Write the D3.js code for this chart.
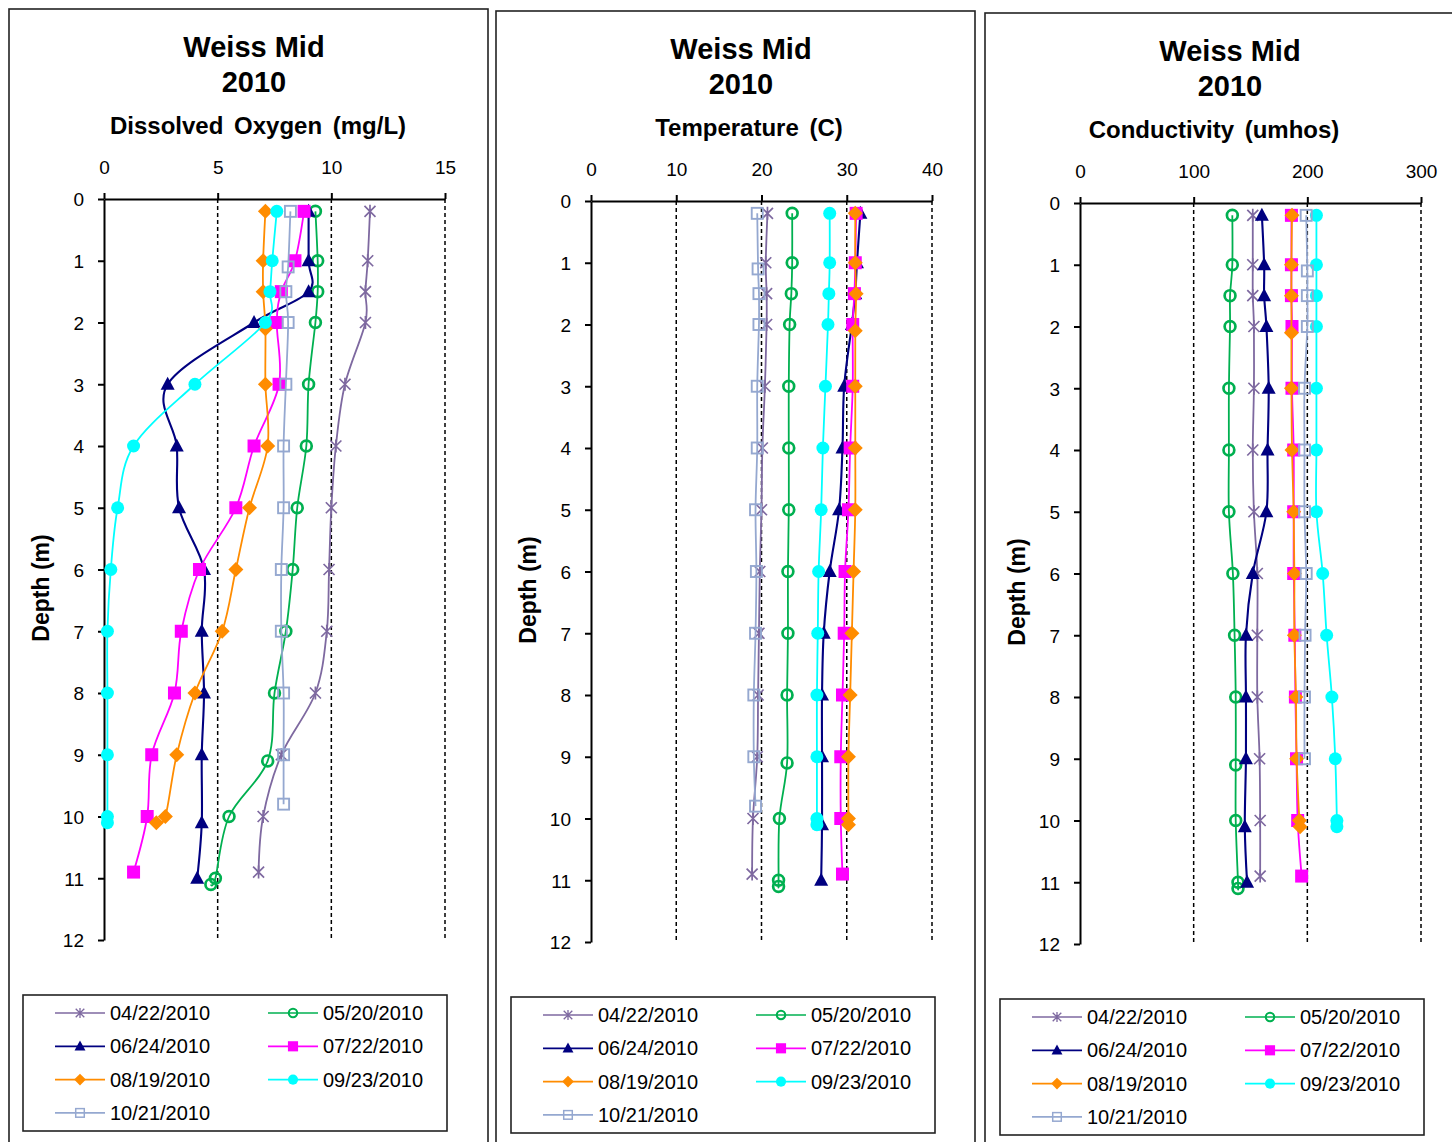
<!DOCTYPE html>
<html>
<head>
<meta charset="utf-8">
<script src="https://cdn.jsdelivr.net/npm/d3@7.9.0/dist/d3.min.js"></script>
<style>
  body { margin: 0; background: #fff; }
  svg { display: block; font-family: "Liberation Sans", Arial, sans-serif; }
</style>
</head>
<body>
<svg id="chart" width="1452" height="1142"></svg>
<script>
// sampling dates (one series each)
const dates = ['04/22/2010', '05/20/2010', '06/24/2010', '07/22/2010', '08/19/2010', '09/23/2010', '10/21/2010'];

// depth (m) of every reading, per date
const depth0422 = [0.2, 1, 1.5, 2, 3, 4, 5, 6, 7, 8, 9, 10, 10.9];
const depth0520 = [0.2, 1, 1.5, 2, 3, 4, 5, 6, 7, 8, 9.1, 10, 11, 11.1];
const depth0624 = [0.2, 1, 1.5, 2, 3, 4, 5, 6, 7, 8, 9, 10.1, 11];
const depth0722 = [0.2, 1, 1.5, 2, 3, 4, 5, 6, 7, 8, 9, 10, 10.9];
const depth0819 = [0.2, 1, 1.5, 2.1, 3, 4, 5, 6, 7, 8, 9, 10, 10.1];
const depth0923 = [0.2, 1, 1.5, 2, 3, 4, 5, 6, 7, 8, 9, 10, 10.1];
const depth1021 = [0.2, 1.1, 1.5, 2, 3, 4, 5, 6, 7, 8, 9, 9.8];

// dissolved oxygen (mg/L)
const do0422 = [11.7, 11.6, 11.5, 11.5, 10.6, 10.2, 10.0, 9.9, 9.8, 9.3, 7.8, 7.0, 6.8];
const do0520 = [9.3, 9.4, 9.4, 9.3, 9.0, 8.9, 8.5, 8.3, 8.0, 7.5, 7.2, 5.5, 4.9, 4.7];
const do0624 = [9.0, 9.0, 9.0, 6.6, 2.8, 3.2, 3.3, 4.4, 4.3, 4.4, 4.3, 4.3, 4.1];
const do0722 = [8.8, 8.4, 7.8, 7.6, 7.7, 6.6, 5.8, 4.2, 3.4, 3.1, 2.1, 1.9, 1.3];
const do0819 = [7.1, 7.0, 7.0, 7.1, 7.1, 7.2, 6.4, 5.8, 5.2, 4.0, 3.2, 2.7, 2.3];
const do0923 = [7.6, 7.4, 7.3, 7.1, 4.0, 1.3, 0.6, 0.3, 0.15, 0.15, 0.15, 0.15, 0.15];
const do1021 = [8.2, 8.1, 8.0, 8.1, 8.0, 7.9, 7.9, 7.8, 7.8, 7.9, 7.9, 7.9];

// temperature (C)
const temp0422 = [20.7, 20.5, 20.6, 20.6, 20.4, 20.1, 20.0, 19.8, 19.7, 19.6, 19.5, 19.0, 18.9];
const temp0520 = [23.6, 23.6, 23.5, 23.3, 23.2, 23.2, 23.2, 23.1, 23.1, 23.0, 23.0, 22.1, 22.0, 22.0];
const temp0624 = [31.6, 31.2, 31.0, 30.6, 29.7, 29.5, 29.1, 28.0, 27.3, 27.1, 27.1, 27.1, 27.0];
const temp0722 = [31.1, 31.0, 30.9, 30.7, 30.7, 30.4, 30.2, 29.8, 29.7, 29.5, 29.3, 29.3, 29.5];
const temp0819 = [31.0, 31.0, 31.1, 31.0, 31.0, 31.0, 31.0, 30.8, 30.6, 30.4, 30.2, 30.2, 30.2];
const temp0923 = [28.0, 28.0, 27.9, 27.8, 27.5, 27.2, 27.0, 26.7, 26.6, 26.5, 26.5, 26.5, 26.5];
const temp1021 = [19.5, 19.6, 19.7, 19.7, 19.5, 19.5, 19.3, 19.4, 19.3, 19.1, 19.1, 19.3];

// conductivity (umhos)
const cond0422 = [152, 152, 152, 153, 153, 152, 153, 156, 156, 156, 158, 158.5, 158.5];
const cond0520 = [134, 134, 132, 132, 131, 131, 131, 134.5, 136, 137, 137, 137, 139, 139];
const cond0624 = [160, 162, 162, 164, 166, 165, 164, 152, 146, 146, 146, 145, 147];
const cond0722 = [186, 186, 186, 186.5, 186.5, 188, 188, 188, 189, 189.5, 190.5, 191.5, 195];
const cond0819 = [186.5, 186, 186, 186, 186, 186.5, 188, 188.6, 188.6, 190, 190.6, 193, 193.6];
const cond0923 = [208, 208, 208, 208, 208, 208, 208, 213.5, 217, 221.6, 224.6, 226, 226];
const cond1021 = [199, 200, 200, 200, 197.5, 197.5, 197.5, 199, 198, 197.5, 197.5, null];

// tick labels
const depthTicks = [0, 1, 2, 3, 4, 5, 6, 7, 8, 9, 10, 11, 12];
const doTicks = [0, 5, 10, 15];
const tempTicks = [0, 10, 20, 30, 40];
const condTicks = [0, 100, 200, 300];

const depths = [depth0422, depth0520, depth0624, depth0722, depth0819, depth0923, depth1021];
const colors = ['#7e69a0', '#00b050', '#000080', '#ff00ff', '#ff8c00', '#00ffff', '#95a8d0'];
const markers = ['star', 'ring', 'triangle', 'square', 'diamond', 'dot', 'box'];

const svg = d3.select('#chart');
svg.append('rect').attr('width', 1452).attr('height', 1142).attr('fill', '#fff');

const plotW = 341, plotH = 741;

const panels = [
  { left: 104, top: 199, boxX: 9, boxY: 9, boxW: 479, subX: 258, legendX: 23,
    subtitle: 'Dissolved Oxygen (mg/L)', ticks: doTicks,
    values: [do0422, do0520, do0624, do0722, do0819, do0923, do1021] },
  { left: 591, top: 201, boxX: 496, boxY: 11, boxW: 479, subX: 749, legendX: 511,
    subtitle: 'Temperature (C)', ticks: tempTicks,
    values: [temp0422, temp0520, temp0624, temp0722, temp0819, temp0923, temp1021] },
  { left: 1080, top: 203, boxX: 985, boxY: 13, boxW: 480, subX: 1214, legendX: 1000,
    subtitle: 'Conductivity (umhos)', ticks: condTicks,
    values: [cond0422, cond0520, cond0624, cond0722, cond0819, cond0923, cond1021] },
];

function drawMarker(g, kind, color, cx, cy, s) {
  const m = g.append('g').attr('transform', `translate(${cx},${cy}) scale(${s})`);
  if (kind === 'star') {
    m.append('path').attr('d', 'M-5.5,-5.5L5.5,5.5M-5.5,5.5L5.5,-5.5M0,-6.5V6.5')
      .attr('stroke', color).attr('stroke-width', 1.7).attr('fill', 'none');
  } else if (kind === 'ring') {
    m.append('circle').attr('r', 5.4).attr('fill', 'none')
      .attr('stroke', color).attr('stroke-width', 2.7);
  } else if (kind === 'triangle') {
    m.append('path').attr('d', 'M0,-7.5L7,5.5L-7,5.5Z').attr('fill', color);
  } else if (kind === 'square') {
    m.append('rect').attr('x', -6.5).attr('y', -6.5).attr('width', 13).attr('height', 13).attr('fill', color);
  } else if (kind === 'diamond') {
    m.append('path').attr('d', 'M0,-7.5L7.5,0L0,7.5L-7.5,0Z').attr('fill', color);
  } else if (kind === 'dot') {
    m.append('circle').attr('r', 6.5).attr('fill', color);
  } else if (kind === 'box') {
    m.append('rect').attr('x', -5.5).attr('y', -5.5).attr('width', 11).attr('height', 11)
      .attr('fill', 'none').attr('stroke', color).attr('stroke-width', 1.9);
  }
}

panels.forEach((p) => {
  const dy = p.top - 199;
  const g = svg.append('g');

  // panel frame
  g.append('rect').attr('x', p.boxX).attr('y', p.boxY).attr('width', p.boxW).attr('height', 1160)
    .attr('fill', 'none').attr('stroke', '#222').attr('stroke-width', 1.6);

  // titles
  const cx = p.left + 150;
  g.append('text').attr('x', cx).attr('y', 57 + dy).attr('text-anchor', 'middle')
    .attr('font-size', 29).attr('font-weight', 'bold').text('Weiss Mid');
  g.append('text').attr('x', cx).attr('y', 92 + dy).attr('text-anchor', 'middle')
    .attr('font-size', 29).attr('font-weight', 'bold').text('2010');
  g.append('text').attr('x', p.subX).attr('y', 134 + dy).attr('text-anchor', 'middle')
    .attr('font-size', 24).attr('font-weight', 'bold').attr('word-spacing', 4).text(p.subtitle);

  const x = d3.scaleLinear().domain([p.ticks[0], p.ticks[p.ticks.length - 1]]).range([p.left, p.left + plotW]);
  const y = d3.scaleLinear().domain([0, 12]).range([p.top, p.top + plotH]);

  // dashed gridlines
  g.append('g').selectAll('line').data(p.ticks.slice(1)).join('line')
    .attr('x1', (d) => x(d)).attr('x2', (d) => x(d))
    .attr('y1', p.top).attr('y2', p.top + plotH)
    .attr('stroke', '#000').attr('stroke-width', 1.5).attr('stroke-dasharray', '4,3');

  // axes
  const xAxis = g.append('g').attr('transform', `translate(0,${p.top})`)
    .call(d3.axisTop(x).tickValues(p.ticks).tickSize(6).tickSizeOuter(0).tickPadding(19));
  const yAxis = g.append('g').attr('transform', `translate(${p.left},0)`)
    .call(d3.axisLeft(y).tickValues(depthTicks).tickSize(6).tickSizeOuter(0).tickPadding(14));
  [xAxis, yAxis].forEach((a) => {
    a.attr('font-family', null).attr('font-size', 19);
    a.select('.domain').attr('stroke-width', 2);
    a.selectAll('.tick line').attr('stroke-width', 2);
  });
  yAxis.selectAll('.tick text').attr('dy', '0.36em');

  // depth label
  g.append('text').attr('transform', `translate(${p.left - 63},${p.top + 389}) rotate(-90)`)
    .attr('text-anchor', 'middle').attr('dominant-baseline', 'central')
    .attr('font-size', 23).attr('font-weight', 'bold').text('Depth (m)');

  // series
  const line = d3.line().x((d) => x(d.v)).y((d) => y(d.d)).curve(d3.curveCardinal.tension(0));
  p.values.forEach((vals, i) => {
    const pts = vals.map((v, k) => ({ v, d: depths[i][k] })).filter((d) => d.v != null);
    g.append('path').datum(pts).attr('d', line)
      .attr('fill', 'none').attr('stroke', colors[i]).attr('stroke-width', i === 2 ? 2.1 : 1.8);
    const mg = g.append('g');
    pts.forEach((d) => drawMarker(mg, markers[i], colors[i], x(d.v), y(d.d), 1));
  });

  // legend
  const ly = 995 + dy;
  const lg = g.append('g');
  lg.append('rect').attr('x', p.legendX).attr('y', ly).attr('width', 424).attr('height', 136)
    .attr('fill', '#fff').attr('stroke', '#222').attr('stroke-width', 1.6);
  dates.forEach((date, i) => {
    const lx = p.legendX + (i % 2 ? 245 : 32);
    const yc = ly + 18 + Math.floor(i / 2) * 33.3;
    lg.append('line').attr('x1', lx).attr('x2', lx + 50).attr('y1', yc).attr('y2', yc)
      .attr('stroke', colors[i]).attr('stroke-width', 1.7);
    drawMarker(lg, markers[i], colors[i], lx + 25, yc, 0.78);
    lg.append('text').attr('x', lx + 55).attr('y', yc + 7).attr('font-size', 20).text(date);
  });
});
</script>
</body>
</html>
